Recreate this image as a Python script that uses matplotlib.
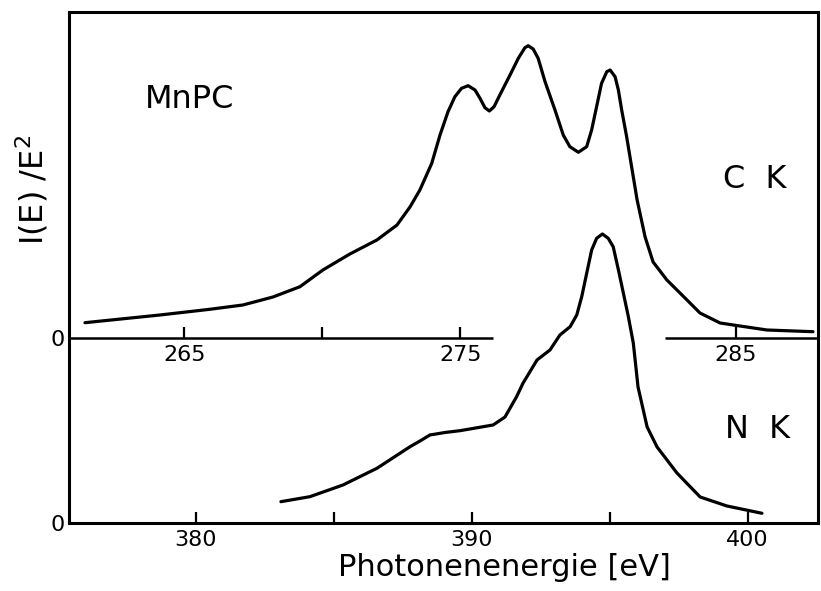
import matplotlib
matplotlib.use("Agg")
import matplotlib.pyplot as plt

# C K emission band (upper trace), energies in eV, intensity in arbitrary units
ck_energy = [261.39, 264.11, 265.92, 267.12, 268.21, 269.19, 270.02, 271.00,
             271.98, 272.71, 273.18, 273.54, 273.97, 274.27, 274.56, 274.81,
             275.05, 275.29, 275.54, 275.72, 275.90, 276.06, 276.23, 276.44,
             276.81, 277.11, 277.35, 277.47, 277.65, 277.83, 278.08, 278.44,
             278.74, 278.98, 279.29, 279.59, 279.77, 279.95, 280.13, 280.32,
             280.44, 280.62, 280.74, 280.86, 281.04, 281.22, 281.42, 281.71,
             282.00, 282.50, 283.23, 283.70, 284.43, 285.15, 286.13, 287.80]
ck_intensity = [15.3, 23, 28.7, 33, 41, 51.3, 68, 84,
                98, 113, 131, 148, 174.7, 203, 226.3, 241.3,
                249.7, 252.3, 248, 239.7, 230.3, 227, 231.3, 243,
                263, 279.7, 290.3, 292.3, 289, 279.7, 256.3, 228,
                203, 191.3, 185.7, 191.3, 208, 231.3, 254.7, 266.3,
                268, 261.3, 248, 228, 201.3, 171.3, 138, 101,
                76, 58, 38, 25, 15, 12, 8, 6.3]

# N K emission band (lower trace)
nk_energy = [383.09, 384.14, 385.34, 386.57, 387.77, 388.13, 388.49, 389.04,
             389.58, 390.78, 391.21, 391.63, 391.86, 392.37, 392.84, 393.20,
             393.57, 393.81, 393.99, 394.17, 394.35, 394.53, 394.74, 394.95,
             395.13, 395.32, 395.50, 395.68, 395.86, 396.03, 396.36, 396.72,
             397.44, 398.28, 399.25, 400.52]
nk_intensity = [21.3, 26.3, 38, 54.7, 76.3, 82, 88, 90.5,
                92.3, 98, 106, 126.3, 139.7, 163, 173, 188,
                196.3, 208, 226.3, 249.7, 273, 284.7, 289, 284.7,
                276.3, 253, 229.7, 206.3, 179.7, 136, 96, 76,
                50, 26, 17, 9.7]

ck_ticks = [265, 270, 275, 285]
ck_ticklabels = ["265", "", "275", "285"]
nk_ticks = [380, 385, 390, 395, 400]
nk_ticklabels = ["380", "", "390", "", "400"]

ck_xlim = (260.81, 287.98)
nk_xlim = (375.41, 402.55)
ck_gap = (276.19, 282.43)   # the C K energy axis is interrupted here

fig = plt.figure(figsize=(8.21, 5.91), dpi=100)

# lower axes spans the full frame (N K, scale 380..400)
ax_n = fig.add_axes([0.0840, 0.1151, 0.9123, 0.8646])
ax_n.plot(nk_energy, nk_intensity, color="black", lw=2.3,
          solid_capstyle="round", solid_joinstyle="round")
ax_n.set_xlim(*nk_xlim)
ax_n.set_ylim(0, 511)
ax_n.set_xticks(nk_ticks)
ax_n.set_xticklabels(nk_ticklabels)
ax_n.set_yticks([0])
ax_n.set_yticklabels(["0"])
ax_n.tick_params(axis="x", direction="in", length=8, width=1.6, labelsize=16, pad=5)
ax_n.tick_params(axis="y", length=0, labelsize=16, pad=3)
for sp in ax_n.spines.values():
    sp.set_linewidth(2.2)
ax_n.set_xlabel("Photonenenergie [eV]", fontsize=22)
ax_n.xaxis.set_label_coords(0.581, -0.058)
ax_n.set_ylabel(r"I(E) /E$^{2}$", fontsize=23)
ax_n.yaxis.set_label_coords(-0.024, 0.652)

# upper axes overlaid (C K, scale 265..285), baseline in the middle of the frame
ax_c = fig.add_axes([0.0840, 0.4281, 0.9123, 0.5516])
ax_c.patch.set_visible(False)
ax_c.plot(ck_energy, ck_intensity, color="black", lw=2.3,
          solid_capstyle="round", solid_joinstyle="round")
ax_c.set_xlim(*ck_xlim)
ax_c.set_ylim(0, 326)
for sp in ax_c.spines.values():
    sp.set_visible(False)
ax_c.hlines(0, ck_xlim[0], ck_gap[0], color="black", lw=1.8, clip_on=False)
ax_c.hlines(0, ck_gap[1], ck_xlim[1], color="black", lw=1.8, clip_on=False)
ax_c.set_xticks(ck_ticks)
ax_c.set_xticklabels(ck_ticklabels)
ax_c.set_yticks([0])
ax_c.set_yticklabels(["0"])
ax_c.tick_params(axis="x", direction="in", length=8, width=1.6, labelsize=16, pad=5)
ax_c.tick_params(axis="y", length=0, labelsize=16, pad=3)

ax_n.text(0.1015, 0.812, "MnPC", transform=ax_n.transAxes, fontsize=23, va="baseline")
ax_n.text(0.873, 0.656, "C  K", transform=ax_n.transAxes, fontsize=23, va="baseline")
ax_n.text(0.876, 0.166, "N  K", transform=ax_n.transAxes, fontsize=23, va="baseline")

fig.savefig("out.png", dpi=100)
